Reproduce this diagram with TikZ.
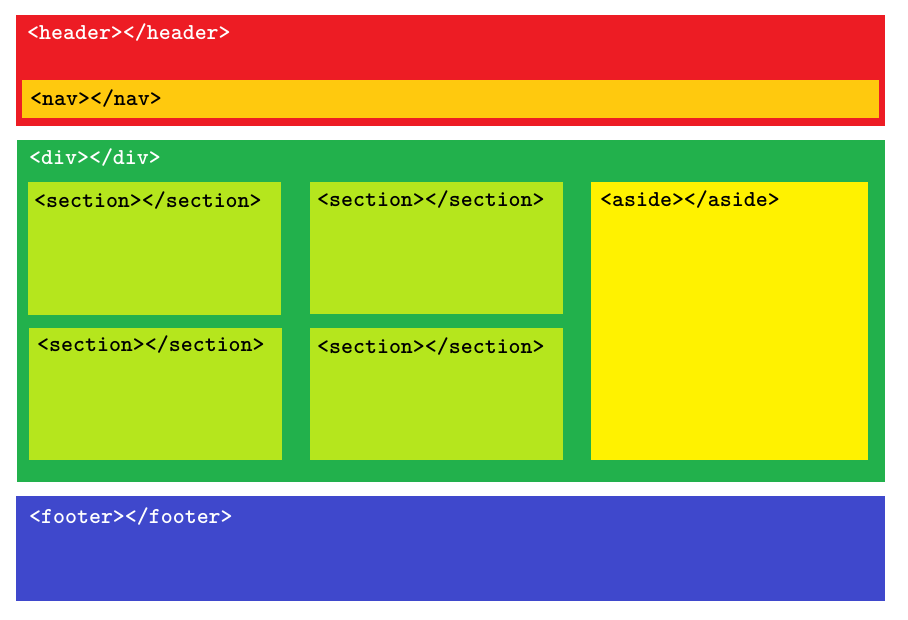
\documentclass[tikz,border=0pt]{standalone}
\usepackage{tikz}
\usetikzlibrary{positioning}

\definecolor{headerred}{HTML}{ED1C24}
\definecolor{navorange}{HTML}{FFC90E}
\definecolor{divgreen}{HTML}{22B14C}
\definecolor{seclime}{HTML}{B5E61D}
\definecolor{asideyellow}{HTML}{FFF200}
\definecolor{footerblue}{HTML}{3F48CC}

\tikzset{
    box/.style={rectangle,anchor=north west,inner sep=0pt,outer sep=0pt},
    tag/.style={anchor=base west,inner sep=0pt,font=\ttfamily\bfseries\fontsize{22.8}{22.8}\selectfont}
}

\begin{document}
\begin{tikzpicture}[x=1pt,y=-1pt]
    \useasboundingbox (0,0) rectangle (908,620);
    % page blocks
    \node[box,fill=headerred,minimum width=869pt,minimum height=111pt] (header) at (16,15) {};
    \node[box,fill=navorange,minimum width=857pt,minimum height=38pt] (nav) at (22,80) {};
    \node[box,fill=divgreen,minimum width=868pt,minimum height=342pt] (div) at (17,140) {};
    \node[box,fill=seclime,minimum width=253pt,minimum height=133pt] (sec1) at (28,182) {};
    \node[box,fill=seclime,minimum width=253pt,minimum height=132pt] (sec2) at (310,182) {};
    \node[box,fill=seclime,minimum width=253pt,minimum height=132pt] (sec3) at (29,328) {};
    \node[box,fill=seclime,minimum width=253pt,minimum height=132pt] (sec4) at (310,328) {};
    \node[box,fill=asideyellow,minimum width=277pt,minimum height=278pt] (aside) at (591,182) {};
    \node[box,fill=footerblue,minimum width=869pt,minimum height=105pt] (footer) at (16,496) {};
    % tags
    \node[tag,text=white] (headertag) at (27,40) {<header></header>};
    \node[tag] (navtag) at (30,106) {<nav></nav>};
    \node[tag,text=white] (divtag) at (29,165) {<div></div>};
    \node[tag] (sec1tag) at (34,208) {<section></section>};
    \node[tag] (sec2tag) at (317,207) {<section></section>};
    \node[tag] (sec3tag) at (37,352) {<section></section>};
    \node[tag] (sec4tag) at (317,354) {<section></section>};
    \node[tag] (asidetag) at (600,207) {<aside></aside>};
    \node[tag,text=white] (footertag) at (29,523) {<footer></footer>};
\end{tikzpicture}
\end{document}
